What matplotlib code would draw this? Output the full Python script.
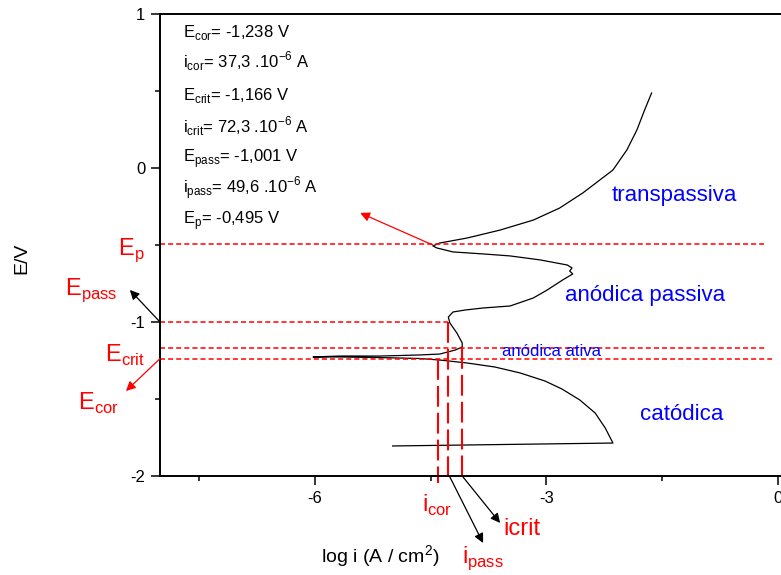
import matplotlib
matplotlib.use("Agg")
import matplotlib.pyplot as plt
from matplotlib.ticker import MultipleLocator

plt.rcParams['font.family'] = ['Liberation Sans', 'DejaVu Sans']
plt.rcParams['axes.unicode_minus'] = False

# polarization curve (log i, E)
log_i = [-4.99, -2.14, -2.24, -2.37, -2.57, -2.80, -3.02, -3.34, -3.67, -4.03,
         -4.38, -4.64, -5.15, -5.67, -6.02, -5.67, -5.15, -4.64, -4.38, -4.18,
         -4.09, -4.09, -4.16, -4.25, -4.27, -4.21, -4.05, -3.82, -3.47, -3.17,
         -2.99, -2.79, -2.66, -2.70, -2.67, -2.73, -3.08, -3.47, -3.82, -4.21,
         -4.42, -4.47, -4.38, -4.03, -3.60, -3.17, -2.83, -2.53, -2.31, -2.14,
         -1.96, -1.83, -1.73, -1.64]
E = [-1.805, -1.786, -1.688, -1.591, -1.506, -1.435, -1.383, -1.331, -1.292, -1.266,
     -1.247, -1.237, -1.231, -1.227, -1.227, -1.221, -1.221, -1.214, -1.208, -1.182,
     -1.162, -1.136, -1.071, -1.006, -0.968, -0.935, -0.922, -0.909, -0.896, -0.844,
     -0.792, -0.727, -0.688, -0.669, -0.649, -0.630, -0.597, -0.571, -0.558, -0.545,
     -0.519, -0.506, -0.487, -0.455, -0.403, -0.338, -0.260, -0.162, -0.078, -0.013,
     0.117, 0.247, 0.377, 0.487]

# characteristic potentials (horizontal guides) and their right end
E_lines = [-0.495, -1.001, -1.166, -1.238]       # Ep, Epass, Ecrit, Ecor
E_line_end = [-0.19, -4.27, -0.15, -0.08]
# characteristic currents (vertical guides)
i_lines = [-4.40, -4.27, -4.09]                   # icor, ipass, icrit
i_line_top = [-1.238, -1.001, -1.166]
i_line_bottom = [-2.045, -2.006, -2.0]

info = [
    'E$_{\\mathregular{cor}}$= -1,238 V',
    'i$_{\\mathregular{cor}}$= 37,3 .10$^{\\mathregular{-6}}$ A',
    'E$_{\\mathregular{crit}}$= -1,166 V',
    'i$_{\\mathregular{crit}}$= 72,3 .10$^{\\mathregular{-6}}$ A',
    'E$_{\\mathregular{pass}}$= -1,001 V',
    'i$_{\\mathregular{pass}}$= 49,6 .10$^{\\mathregular{-6}}$ A',
    'E$_{\\mathregular{p}}$= -0,495 V',
]
info_y = [37, 67, 100, 132, 162, 193, 224]

W, H = 781, 575


def at(px, py):
    return px / W, 1 - py / H


fig = plt.figure(figsize=(7.81, 5.75), dpi=100)
ax = fig.add_axes([160 / W, 99 / H, 657 / W, 462 / H])
ax.set_xlim(-8, 0.5)
ax.set_ylim(-2, 1)

ax.plot(log_i, E, color='black', lw=0.9)

for y, xe in zip(E_lines, E_line_end):
    ax.plot([-8, xe], [y, y], color='red', lw=1.1, ls=(0, (3.3, 2)), clip_on=False)
for x, yt, yb in zip(i_lines, i_line_top, i_line_bottom):
    ax.plot([x, x], [yt, yb], color='red', lw=1.5, ls=(0, (10, 2.9)), clip_on=False)

# arrows
arrows = [((-4.47, -0.50), (-5.41, -0.292), 'red'),
          ((-8.0, -1.0), (-8.39, -0.792), 'black'),
          ((-8.0, -1.238), (-8.44, -1.448), 'red'),
          ((-4.25, -2.006), (-3.82, -2.435), 'black'),
          ((-4.09, -2.0), (-3.60, -2.305), 'black')]
for start, end, c in arrows:
    ax.annotate('', xy=end, xytext=start, annotation_clip=False,
                arrowprops=dict(arrowstyle='-|>', color=c, lw=0.9,
                                mutation_scale=14, shrinkA=0, shrinkB=0))

ax.xaxis.set_major_locator(MultipleLocator(3))
ax.xaxis.set_minor_locator(MultipleLocator(1.5))
ax.yaxis.set_major_locator(MultipleLocator(1))
ax.yaxis.set_minor_locator(MultipleLocator(0.5))
ax.tick_params(which='both', direction='out', labelsize=12, width=1.1)
ax.tick_params(which='major', length=6.5, pad=4)
ax.tick_params(which='minor', length=3.5)
ax.tick_params(axis='x', which='both', top=False)
for s in ax.spines.values():
    s.set_linewidth(1.4)

# value box
for txt, py in zip(info, info_y):
    fig.text(*at(183, py), txt, fontsize=12, va='baseline')

# axis labels
fig.text(*at(22, 258), 'E/V', fontsize=14, rotation=90, ha='center', va='center')
fig.text(*at(380, 557), 'log i (A / cm$^{\\mathregular{2}}$)', fontsize=14,
         ha='center', va='center')

# red labels
red = [(118, 255, 'E$_{\\mathregular{p}}$'),
       (65, 295, 'E$_{\\mathregular{pass}}$'),
       (105, 362, 'E$_{\\mathregular{crit}}$'),
       (78, 410, 'E$_{\\mathregular{cor}}$'),
       (422, 512, 'i$_{\\mathregular{cor}}$'),
       (503, 535, 'icrit'),
       (462, 563, 'i$_{\\mathregular{pass}}$')]
for px, py, s in red:
    fig.text(*at(px, py), s, fontsize=17, color='red', va='baseline')

# region labels
blue = [(612, 195, 'transpassiva', 16),
        (565, 295, 'anódica passiva', 16),
        (502, 351, 'anódica ativa', 12),
        (640, 415, 'catódica', 16)]
for px, py, s, fs in blue:
    fig.text(*at(px, py), s, fontsize=fs, color='blue', va='center')

fig.savefig('out.png', dpi=100)
